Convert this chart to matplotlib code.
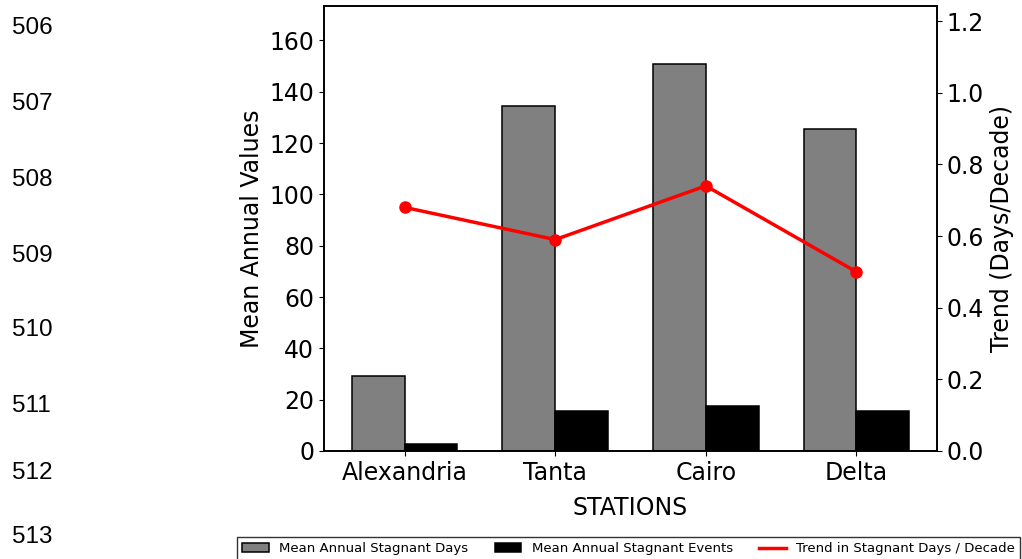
import matplotlib
matplotlib.use("Agg")
import matplotlib.pyplot as plt
import numpy as np
from matplotlib.lines import Line2D

plt.rcParams["font.family"] = "DejaVu Sans"
plt.rcParams["font.size"] = 17
plt.rcParams["axes.linewidth"] = 1.2

# Data
stations = ["Alexandria", "Tanta", "Cairo", "Delta"]
stag_days = [29.3, 134.6, 150.8, 125.4]
stag_events = [2.7, 15.6, 17.6, 15.6]
trend = [0.68, 0.59, 0.74, 0.50]
line_nums = ["506", "507", "508", "509", "510", "511", "512", "513"]
line_y = [28, 104, 180, 256, 330, 406, 473, 537]  # pixel rows of the margin numbers

W, H = 1022, 559
fig = plt.figure(figsize=(W / 100, H / 100), dpi=100)
ax = fig.add_axes([324 / W, 1 - 451 / H, (937 - 324) / W, (451 - 6) / H])

x = np.arange(len(stations))
bw = 0.35
b1 = ax.bar(x - bw / 2, stag_days, bw, color="gray", edgecolor="black",
            linewidth=1.1, label="Mean Annual Stagnant Days")
b2 = ax.bar(x + bw / 2, stag_events, bw, color="black", edgecolor="black",
            linewidth=1.1, label="Mean Annual Stagnant Events")
ax.set_ylim(0, max(stag_days) * 1.15)
ax.set_xticks(x)
ax.set_xticklabels(stations)
ax.set_xlabel("STATIONS", labelpad=8)
ax.set_ylabel("Mean Annual Values")

ax2 = ax.twinx()
l1, = ax2.plot(x, trend, color="red", linewidth=2.5, marker="o", markersize=8,
               label="Trend in Stagnant Days / Decade")
ax2.set_ylim(0, 1.242)
ax2.set_ylabel("Trend (Days/Decade)")

# legend handle without marker, like the reference
lh = Line2D([], [], color="red", linewidth=2.5)
fig.legend([b1, b2, lh], [b1.get_label(), b2.get_label(), l1.get_label()],
           loc="upper left", bbox_to_anchor=(237 / W, 1 - 537 / H), ncol=3,
           fontsize=9.5, frameon=True, fancybox=False, edgecolor="black",
           columnspacing=2.0, borderaxespad=0)

# document line numbers in the left margin
for t, yy in zip(line_nums, line_y):
    fig.text(12 / W, 1 - yy / H, t, family="Liberation Sans", fontsize=17.5,
             va="center", ha="left")

fig.savefig("out.png", dpi=100)
